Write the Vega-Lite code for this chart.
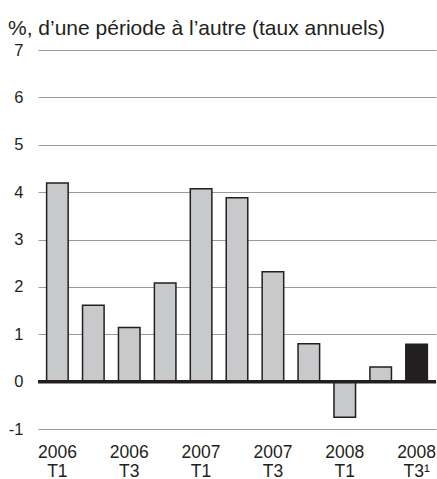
{
  "$schema": "https://vega.github.io/schema/vega-lite/v6.json",
  "autosize": "none",
  "width": 398,
  "height": 379,
  "padding": {"left": 38, "top": 50, "right": 1, "bottom": 50},
  "background": "white",
  "config": {
    "font": "Liberation Sans",
    "view": {"stroke": null}
  },
  "title": {
    "text": "%, d’une période à l’autre (taux annuels)",
    "anchor": "start",
    "frame": "group",
    "orient": "top",
    "offset": 3,
    "dx": -30,
    "fontSize": 21,
    "fontWeight": "normal",
    "color": "#231f20"
  },
  "data": {
    "values": [
      {"period": "2006 T1", "value": 4.19, "type": "actual"},
      {"period": "2006 T2", "value": 1.61, "type": "actual"},
      {"period": "2006 T3", "value": 1.14, "type": "actual"},
      {"period": "2006 T4", "value": 2.08, "type": "actual"},
      {"period": "2007 T1", "value": 4.07, "type": "actual"},
      {"period": "2007 T2", "value": 3.88, "type": "actual"},
      {"period": "2007 T3", "value": 2.32, "type": "actual"},
      {"period": "2007 T4", "value": 0.8, "type": "actual"},
      {"period": "2008 T1", "value": -0.75, "type": "actual"},
      {"period": "2008 T2", "value": 0.31, "type": "actual"},
      {"period": "2008 T3¹", "value": 0.79, "type": "estimate"}
    ]
  },
  "layer": [
    {
      "mark": {"type": "bar", "stroke": "#231f20", "strokeWidth": 1.5},
      "encoding": {
        "x": {
          "field": "period",
          "type": "nominal",
          "sort": null,
          "scale": {"paddingInner": 0.4, "paddingOuter": 0.24},
          "axis": {
            "title": null,
            "domain": false,
            "ticks": false,
            "labelAngle": 0,
            "labelFontSize": 17.5,
            "labelColor": "#231f20",
            "labelPadding": 14,
            "labelLineHeight": 19,
            "labelBaseline": "top",
            "labelExpr": "(indexof(datum.value, 'T2') >= 0 || indexof(datum.value, 'T4') >= 0) ? '' : split(datum.value, ' ')"
          }
        },
        "y": {
          "field": "value",
          "type": "quantitative",
          "scale": {"domain": [-1, 7], "nice": false, "zero": false},
          "axis": {
            "title": null,
            "values": [-1, 0, 1, 2, 3, 4, 5, 6, 7],
            "domain": false,
            "ticks": false,
            "labelFontSize": 16.5,
            "labelColor": "#231f20",
            "labelPadding": 15,
            "labelExpr": "'' + datum.value",
            "grid": true,
            "gridColor": "#9a9a9a",
            "gridWidth": 1.2
          }
        },
        "fill": {
          "field": "type",
          "type": "nominal",
          "scale": {"domain": ["actual", "estimate"], "range": ["#c8c9cb", "#231f20"]},
          "legend": null
        }
      }
    },
    {
      "data": {"values": [{"y": 0}]},
      "mark": {"type": "rule", "color": "#231f20", "strokeWidth": 3.5},
      "encoding": {
        "y": {"field": "y", "type": "quantitative"}
      }
    }
  ]
}
